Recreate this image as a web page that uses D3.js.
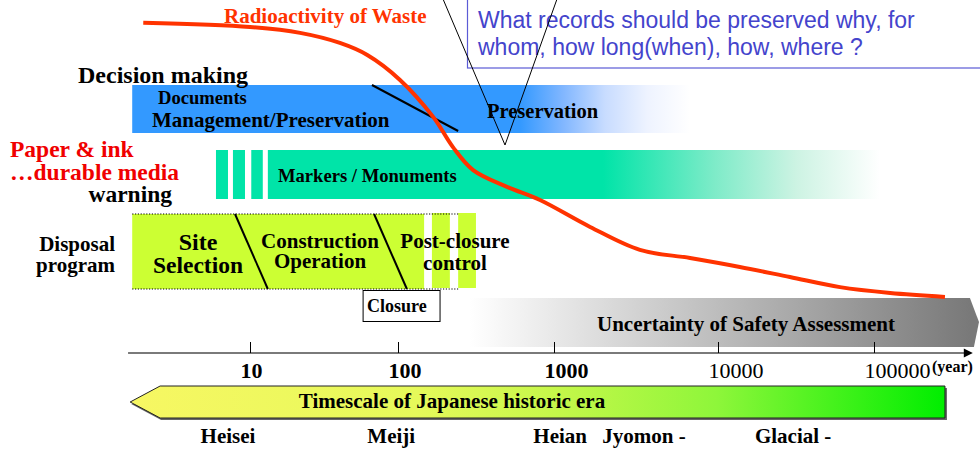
<!DOCTYPE html>
<html>
<head>
<meta charset="utf-8">
<script src="https://cdn.jsdelivr.net/npm/d3@7"></script>
<style>
  body { margin: 0; background: #fff; }
</style>
</head>
<body>
<div class="chart"></div>
<script>
// --- data (years on a log axis) ---
var tickYears = [10, 100, 1000, 10000, 100000];
var tickLabels = ["10", "100", "1000", "10000", "100000"];

// radioactivity of waste (relative level, 100 = start)
var curveYears = [1.9, 10, 21.8, 40.5, 62, 103, 168, 225, 303, 500, 813, 1660, 3340, 6750, 13800, 28900, 60500, 127000, 285000];
var curveLevels = [99, 97.5, 95.4, 91.8, 87.5, 78.6, 65.4, 54.6, 46.4, 40.4, 35.7, 26.1, 17.9, 15, 11.8, 8.2, 4.6, 2.5, 1.1];

var preservationSpan = [1.6, 6750];
var preservationFade = [605, 6750];
var docDivider = [66.7, 243];

var markerBars = [[5.89, 7.1], [7.67, 9.25], [10.2, 12.2]];
var markerSpan = [13.2, 109000];
var markerFade = [1990, 109000];

var programSpan = [1.6, 147];
var programStrips = [[165, 215], [243, 316]];
var programDotted = [1.6, 243];
var phaseDividers = [[7.92, 13.2], [68.9, 114]];
var closureSpan = [58.1, 186];

var uncertaintySpan = [289, 412000, 471000];
var timescaleSpan = [1.55, 2.47, 285000];
var axisSpan = [1.5, 430000];

var eraNames = ["Heisei", "Meiji", "Heian", "Jyomon -", "Glacial -"];
var eraYears = [7.1, 90, 1090, 3540, 30300];

// --- setup ---
var svgWidth = 980;
var svgHeight = 449;
var serif = "'Liberation Serif', 'Times New Roman', serif";

var svg = d3.select(".chart")
  .append("svg")
  .attr("width", svgWidth)
  .attr("height", svgHeight);

// decades are not drawn equally wide in the original
var x = d3.scaleLog().domain(tickYears).range([250, 398, 554, 718, 874]);
var y = d3.scaleLinear().domain([0, 100]).range([300, 20]);

var defs = svg.append("defs");
function grad(id, x1, x2, stops) {
  var g = defs.append("linearGradient")
    .attr("id", id)
    .attr("gradientUnits", "userSpaceOnUse")
    .attr("x1", x1).attr("x2", x2).attr("y1", 0).attr("y2", 0);
  stops.forEach(function(s) {
    g.append("stop").attr("offset", s[0]).attr("stop-color", s[1]);
  });
}
grad("blueFade", x(preservationFade[0]), x(preservationFade[1]),
  [[0, "#3399ff"], [0.25, "#80b6ff"], [0.5, "#c8dcff"], [0.75, "#eef3ff"], [1, "#ffffff"]]);
grad("greenFade", x(markerFade[0]), x(markerFade[1]),
  [[0, "#00e4a8"], [0.4, "#7debc8"], [0.7, "#cdf3e3"], [1, "#ffffff"]]);
grad("grayFade", x(uncertaintySpan[0]), x(uncertaintySpan[1]),
  [[0, "#ffffff"], [1, "#797979"]]);
grad("eraFade", x(timescaleSpan[0]), x(timescaleSpan[2]),
  [[0, "#f7f763"], [0.35, "#e6f95a"], [0.52, "#c6f74a"], [0.72, "#8ef63a"], [1, "#00ee00"]]);

function label(txt, px, py, size, opts) {
  opts = opts || {};
  return svg.append("text")
    .attr("x", px).attr("y", py)
    .attr("font-family", opts.family || serif)
    .attr("font-weight", opts.weight || "bold")
    .attr("font-size", size)
    .attr("text-anchor", opts.anchor || "start")
    .attr("fill", opts.color || "#000")
    .text(txt);
}

// --- documents band ---
svg.append("rect")
  .attr("x", x(preservationSpan[0]))
  .attr("y", 85)
  .attr("width", x(preservationSpan[1]) - x(preservationSpan[0]))
  .attr("height", 48)
  .attr("fill", "url(#blueFade)");

svg.append("line")
  .attr("x1", x(docDivider[0])).attr("y1", 85)
  .attr("x2", x(docDivider[1])).attr("y2", 131)
  .attr("stroke", "#000").attr("stroke-width", 2);

// --- markers band ---
svg.selectAll(".markerBar")
  .data(markerBars)
  .enter()
  .append("rect")
  .attr("class", "markerBar")
  .attr("x", d => x(d[0]))
  .attr("y", 150)
  .attr("width", d => x(d[1]) - x(d[0]))
  .attr("height", 49)
  .attr("fill", "#00e4a8");

svg.append("rect")
  .attr("x", x(markerSpan[0]))
  .attr("y", 150)
  .attr("width", x(markerSpan[1]) - x(markerSpan[0]))
  .attr("height", 49)
  .attr("fill", "url(#greenFade)");

// --- disposal program ---
svg.append("rect")
  .attr("x", x(programSpan[0]))
  .attr("y", 214)
  .attr("width", x(programSpan[1]) - x(programSpan[0]))
  .attr("height", 75)
  .attr("fill", "#ccff33");

svg.selectAll(".strip")
  .data(programStrips)
  .enter()
  .append("rect")
  .attr("class", "strip")
  .attr("x", d => x(d[0]))
  .attr("y", 213)
  .attr("width", d => x(d[1]) - x(d[0]))
  .attr("height", 75)
  .attr("fill", "#ccff33");

[214, 289].forEach(function(py) {
  svg.append("line")
    .attr("x1", x(programDotted[0])).attr("x2", x(programDotted[1]))
    .attr("y1", py).attr("y2", py)
    .attr("stroke", "#000").attr("stroke-width", 1.2)
    .attr("stroke-dasharray", "1.2,1.6");
});

svg.selectAll(".phaseDiv")
  .data(phaseDividers)
  .enter()
  .append("line")
  .attr("x1", d => x(d[0])).attr("y1", 214)
  .attr("x2", d => x(d[1])).attr("y2", 289)
  .attr("stroke", "#000").attr("stroke-width", 2);

svg.append("rect")
  .attr("x", x(closureSpan[0]))
  .attr("y", 290.5)
  .attr("width", x(closureSpan[1]) - x(closureSpan[0]))
  .attr("height", 31)
  .attr("fill", "#fff")
  .attr("stroke", "#000");

// --- uncertainty arrow ---
var ux0 = x(uncertaintySpan[0]), ux1 = x(uncertaintySpan[1]), ux2 = x(uncertaintySpan[2]);
svg.append("path")
  .attr("d", `M${ux0},298 L${ux1},298 L${ux2},322 L${ux1 + 4},347 L${ux0},347 Z`)
  .attr("fill", "url(#grayFade)");

// --- timescale arrow ---
var tx0 = x(timescaleSpan[0]), tx1 = x(timescaleSpan[1]), tx2 = x(timescaleSpan[2]);
svg.append("path")
  .attr("d", `M${tx0 + 1},404 L${tx1 + 1},420 L${tx2 + 2},420 L${tx2 + 2},388 Z`)
  .attr("fill", "#666");
svg.append("path")
  .attr("d", `M${tx0},402 L${tx1},386 L${tx2},386 L${tx2},418 L${tx1},418 Z`)
  .attr("fill", "url(#eraFade)")
  .attr("stroke", "#222")
  .attr("stroke-width", 1);

// --- axis ---
var ax0 = x(axisSpan[0]), ax1 = x(axisSpan[1]);
svg.append("line")
  .attr("x1", ax0).attr("x2", ax1 - 8)
  .attr("y1", 353).attr("y2", 353)
  .attr("stroke", "#7a7a7a").attr("stroke-width", 2);
svg.append("path")
  .attr("d", `M${ax1 - 9},348.5 L${ax1},353 L${ax1 - 9},357.5 Z`)
  .attr("fill", "#000");

var bottomAxis = d3.axisBottom(x)
  .tickValues(tickYears)
  .tickFormat((d, i) => tickLabels[i])
  .tickSize(-11)
  .tickPadding(9);

var gAxis = svg.append("g")
  .attr("transform", "translate(0, 353)")
  .call(bottomAxis);
gAxis.select(".domain").remove();
gAxis.selectAll(".tick line").attr("stroke", "#000");
gAxis.selectAll(".tick text")
  .attr("fill", "#000")
  .attr("text-anchor", "start")
  .attr("dx", -10)
  .attr("font-family", serif)
  .attr("font-size", 22)
  .attr("font-weight", d => d < 10000 ? "bold" : "normal");

label("(year)", 932, 372, 16);

// --- radioactivity curve ---
var line = d3.line()
  .x((d, i) => x(curveYears[i]))
  .y(d => y(d))
  .curve(d3.curveCatmullRom);

svg.append("path")
  .datum(curveLevels)
  .attr("d", line)
  .attr("fill", "none")
  .attr("stroke", "#ff3300")
  .attr("stroke-width", 4);

// --- texts ---
label("Radioactivity of Waste", 224, 23, 21, {color: "#ff3300"});
label("Decision making", 78, 83, 24);
label("Documents", 158, 104, 18.6);
label("Management/Preservation", 152, 127, 21);
label("Preservation", 487, 118, 20.5);
label("Markers / Monuments", 278, 182, 18.6);

label("Paper & ink", 10, 157, 23.5, {color: "#f00000"});
label("\u2026durable media", 10, 180, 23.5, {color: "#f00000"});
label("warning", 172, 202, 23.5, {anchor: "end"});

label("Disposal", 115, 251, 21, {anchor: "end"});
label("program", 115, 272, 21, {anchor: "end"});
label("Site", 198, 250, 24, {anchor: "middle"});
label("Selection", 198, 273, 23.5, {anchor: "middle"});
label("Construction", 320, 248, 21, {anchor: "middle"});
label("Operation", 320, 268, 21, {anchor: "middle"});
label("Post-closure", 455, 248, 21, {anchor: "middle"});
label("control", 455, 270, 21, {anchor: "middle"});
label("Closure", 367, 312, 18);

label("Uncertainty of Safety Assessment", 746, 331, 21, {anchor: "middle"});
label("Timescale of Japanese historic era", 452, 408, 21, {anchor: "middle"});

svg.selectAll(".era")
  .data(eraNames)
  .enter()
  .append("text")
  .attr("class", "era")
  .attr("x", (d, i) => x(eraYears[i]))
  .attr("y", 443)
  .attr("text-anchor", "middle")
  .attr("font-family", serif)
  .attr("font-weight", "bold")
  .attr("font-size", 21)
  .text(d => d);

// --- callout ---
svg.append("rect")
  .attr("x", 467.5).attr("y", -5)
  .attr("width", 520).attr("height", 73)
  .attr("fill", "#fff")
  .attr("stroke", "#5b5bd6").attr("stroke-width", 1.2);
label("What records should be preserved why, for", 478, 28, 23,
  {family: "'Liberation Sans', Arial, sans-serif", weight: "normal", color: "#4444cc"});
label("whom, how long(when), how, where ?", 478, 55, 23,
  {family: "'Liberation Sans', Arial, sans-serif", weight: "normal", color: "#4444cc"});

svg.append("path")
  .attr("d", "M443,-1 L505,145 L557,-1")
  .attr("fill", "none")
  .attr("stroke", "#000")
  .attr("stroke-width", 1);
</script>
</body>
</html>
